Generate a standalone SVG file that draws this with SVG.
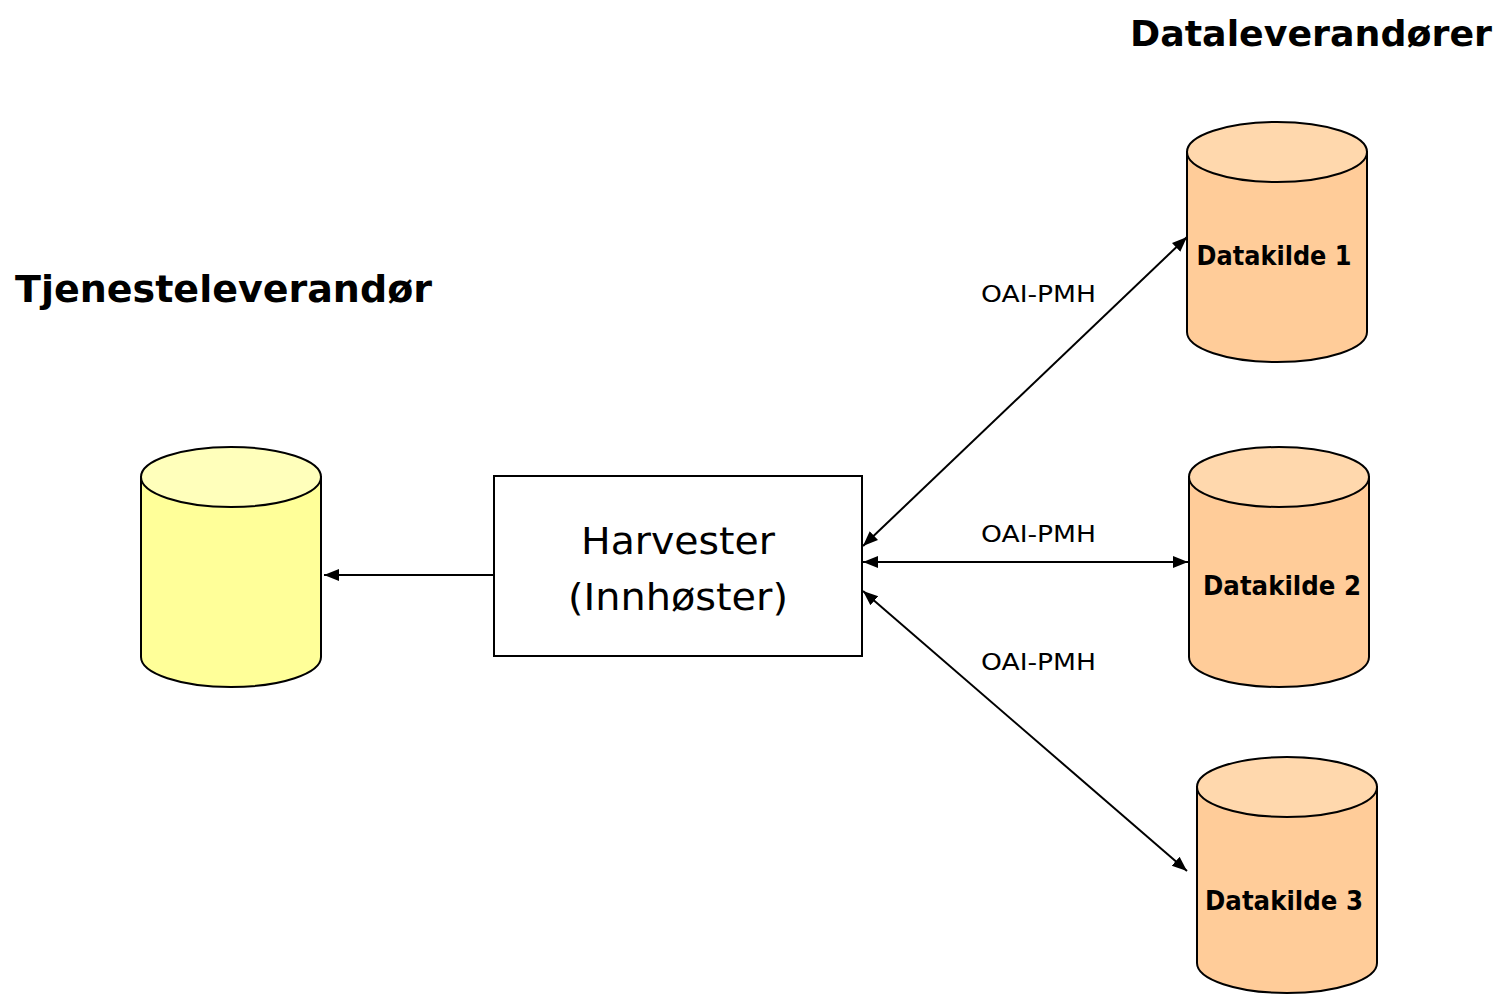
<svg xmlns="http://www.w3.org/2000/svg" width="1502" height="995" viewBox="0 0 1502 995">
<style>
.cyl{stroke:#000;stroke-width:2}
.y .body{fill:#ffff99}.y .top{fill:#ffffbb}
.o .body{fill:#ffcc99}.o .top{fill:#ffd8ad}
.title{font-family:"DejaVu Sans","Liberation Sans",sans-serif;font-weight:bold;font-size:38px;fill:#000}
.lbl{font-family:"DejaVu Sans","Liberation Sans",sans-serif;font-weight:bold;font-size:26px;fill:#000;text-anchor:middle}
.oai{font-family:"DejaVu Sans","Liberation Sans",sans-serif;font-size:23px;fill:#000}
.harv{font-family:"DejaVu Sans","Liberation Sans",sans-serif;font-size:38px;fill:#000;text-anchor:middle}
.con{stroke:#000;stroke-width:2;fill:none}
</style>
<defs>
<marker id="ah2" viewBox="0 0 10 10" refX="10" refY="5" markerWidth="15" markerHeight="15" markerUnits="userSpaceOnUse" orient="auto-start-reverse">
<path d="M0,1 L10,5 L0,9 Z" fill="#000"/>
</marker>
</defs>
<rect width="1502" height="995" fill="#fff"/>
<text class="title" x="15" y="302" textLength="417" lengthAdjust="spacingAndGlyphs">Tjenesteleverandør</text>
<text class="title" x="1130" y="46" font-size="33" textLength="362" lengthAdjust="spacingAndGlyphs" style="font-size:36px">Dataleverandører</text>

<g id="connectors">
<line class="con" x1="494" y1="575" x2="324" y2="575" marker-end="url(#ah2)"/>
<line class="con" x1="863" y1="546" x2="1187" y2="237" marker-start="url(#ah2)" marker-end="url(#ah2)"/>
<line class="con" x1="863" y1="562" x2="1188" y2="562" marker-start="url(#ah2)" marker-end="url(#ah2)"/>
<line class="con" x1="863" y1="591" x2="1187" y2="871" marker-start="url(#ah2)" marker-end="url(#ah2)"/>
<text class="oai" x="981" y="302" textLength="115" lengthAdjust="spacingAndGlyphs">OAI-PMH</text>
<text class="oai" x="981" y="542" textLength="115" lengthAdjust="spacingAndGlyphs">OAI-PMH</text>
<text class="oai" x="981" y="670" textLength="115" lengthAdjust="spacingAndGlyphs">OAI-PMH</text>
</g>

<g id="tjeneste-db" class="cyl y">
<path class="body" d="M141,477 L141,657 A90,30 0 0 0 321,657 L321,477 Z"/>
<ellipse class="top" cx="231" cy="477" rx="90" ry="30"/>
</g>

<g id="harvester">
<rect x="494" y="476" width="368" height="180" fill="#fff" stroke="#000" stroke-width="2"/>
<text class="harv" x="678" y="554" textLength="194" lengthAdjust="spacingAndGlyphs">Harvester</text>
<text class="harv" x="678" y="610" textLength="220" lengthAdjust="spacingAndGlyphs">(Innhøster)</text>
</g>

<g id="datakilde1" class="cyl o">
<path class="body" d="M1187,152 L1187,332 A90,30 0 0 0 1367,332 L1367,152 Z"/>
<ellipse class="top" cx="1277" cy="152" rx="90" ry="30"/>
<text class="lbl" x="1274" y="265" textLength="155" lengthAdjust="spacingAndGlyphs" stroke="none">Datakilde 1</text>
</g>

<g id="datakilde2" class="cyl o">
<path class="body" d="M1189,477 L1189,657 A90,30 0 0 0 1369,657 L1369,477 Z"/>
<ellipse class="top" cx="1279" cy="477" rx="90" ry="30"/>
<text class="lbl" x="1282" y="595" textLength="158" lengthAdjust="spacingAndGlyphs" stroke="none">Datakilde 2</text>
</g>

<g id="datakilde3" class="cyl o">
<path class="body" d="M1197,787 L1197,963 A90,30 0 0 0 1377,963 L1377,787 Z"/>
<ellipse class="top" cx="1287" cy="787" rx="90" ry="30"/>
<text class="lbl" x="1284" y="910" textLength="158" lengthAdjust="spacingAndGlyphs" stroke="none">Datakilde 3</text>
</g>
</svg>
